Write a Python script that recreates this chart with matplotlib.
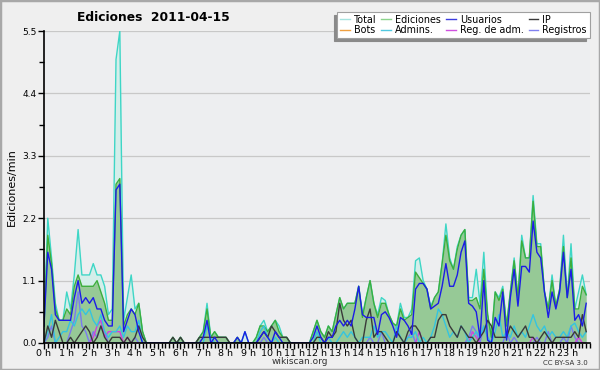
import numpy as np
import matplotlib.pyplot as plt
from matplotlib.lines import Line2D
from matplotlib.patches import Rectangle
from matplotlib.ticker import MultipleLocator, FixedLocator

# 10-minute bins over the day (edits per minute)
hour_labels = [f"{h} h" for h in range(24)]

total = [
    0.3, 2.2, 1.5, 0.7, 0.4, 0.4, 0.9, 0.6, 1.2, 2.0, 1.2, 1.2,
    1.2, 1.4, 1.2, 1.2, 1.0, 0.5, 0.6, 5.0, 5.5, 0.4, 0.8, 1.2,
    0.6, 0.7, 0.2, 0, 0, 0, 0, 0, 0, 0, 0.1, 0,
    0.1, 0, 0, 0, 0, 0.1, 0.2, 0.7, 0.1, 0.2, 0.1, 0.1,
    0.1, 0, 0, 0.1, 0, 0.2, 0, 0, 0.1, 0.3, 0.4, 0.2,
    0.3, 0.4, 0.3, 0.1, 0.1, 0, 0, 0, 0, 0, 0, 0.2,
    0.4, 0.2, 0.1, 0.3, 0.2, 0.5, 0.8, 0.6, 0.7, 0.7, 0.7, 1.0,
    0.5, 0.8, 1.1, 0.7, 0.5, 0.8, 0.75, 0.5, 0.35, 0.3, 0.7, 0.45,
    0.45, 0.6, 1.45, 1.5, 1.1, 0.95, 0.65, 0.8, 0.9, 1.4, 2.1, 1.5,
    1.3, 1.7, 1.9, 2.0, 0.8, 0.8, 1.3, 0.7, 1.6, 0.5, 0.1, 0.9,
    0.8, 1.0, 0.3, 0.9, 1.5, 0.8, 1.9, 1.5, 1.5, 2.6, 1.75, 1.75,
    0.9, 0.6, 1.2, 0.65, 0.95, 1.9, 0.8, 1.75, 0.6, 0.9, 1.2, 0.85,
]
ediciones = [
    0.3, 1.9, 1.4, 0.6, 0.4, 0.4, 0.6, 0.5, 1.0, 1.2, 1.0, 1.0,
    1.0, 1.0, 1.1, 0.9, 0.7, 0.4, 0.4, 2.8, 2.9, 0.3, 0.5, 0.6,
    0.5, 0.7, 0.2, 0, 0, 0, 0, 0, 0, 0, 0.1, 0,
    0.1, 0, 0, 0, 0, 0.1, 0.2, 0.6, 0.1, 0.2, 0.1, 0.1,
    0.1, 0, 0, 0.1, 0, 0, 0, 0, 0.1, 0.3, 0.3, 0.2,
    0.3, 0.4, 0.2, 0.1, 0.1, 0, 0, 0, 0, 0, 0, 0.2,
    0.4, 0.2, 0.1, 0.3, 0.2, 0.5, 0.8, 0.6, 0.7, 0.7, 0.7, 1.0,
    0.45, 0.8, 1.1, 0.7, 0.45, 0.7, 0.7, 0.5, 0.35, 0.3, 0.6, 0.4,
    0.45, 0.5, 1.25, 1.15, 1.05, 0.95, 0.6, 0.8, 0.9, 1.4, 1.9, 1.45,
    1.3, 1.65, 1.9, 2.0, 0.75, 0.75, 0.8, 0.6, 1.3, 0.5, 0.1, 0.9,
    0.75, 0.95, 0.3, 0.9, 1.45, 0.8, 1.8, 1.5, 1.5, 2.5, 1.7, 1.7,
    0.9, 0.6, 1.1, 0.65, 0.95, 1.7, 0.8, 1.5, 0.6, 0.6, 1.0, 0.85,
]
usuarios = [
    0.3, 1.6, 1.3, 0.5, 0.4, 0.4, 0.4, 0.4, 0.8, 1.1, 0.7, 0.8,
    0.7, 0.8, 0.6, 0.6, 0.4, 0.3, 0.3, 2.7, 2.8, 0.2, 0.4, 0.6,
    0.5, 0.2, 0, 0, 0, 0, 0, 0, 0, 0, 0, 0,
    0, 0, 0, 0, 0, 0, 0.1, 0.4, 0, 0.1, 0, 0,
    0, 0, 0, 0.1, 0, 0.2, 0, 0, 0, 0.1, 0.2, 0.1,
    0, 0.2, 0.1, 0, 0, 0, 0, 0, 0, 0, 0, 0.1,
    0.3, 0.1, 0, 0.1, 0.1, 0.3, 0.4, 0.3, 0.4, 0.3, 0.6, 1.0,
    0.5, 0.45, 0.45, 0.45, 0.15, 0.5, 0.55, 0.45, 0.3, 0.1, 0.45, 0.4,
    0.3, 0.15, 0.95, 1.05, 1.05, 0.95, 0.6, 0.65, 0.7, 1.0, 1.4, 1.0,
    1.0, 1.2, 1.6, 1.8, 0.7, 0.65, 0.55, 0.1, 1.1, 0.05, 0, 0.45,
    0.3, 0.9, 0.05, 0.8, 1.3, 0.65, 1.35, 1.35, 1.25, 2.15, 1.6, 1.5,
    0.9, 0.45, 0.9, 0.6, 0.9, 1.6, 0.8, 1.3, 0.4, 0.5, 0.3, 0.7,
]
ip = [
    0, 0.3, 0.1, 0.4, 0.2, 0, 0, 0.1, 0, 0.1, 0.2, 0.3,
    0.2, 0, 0.1, 0.3, 0.1, 0, 0.1, 0.1, 0.1, 0, 0.1, 0,
    0.1, 0.3, 0.1, 0, 0, 0, 0, 0, 0, 0, 0.1, 0,
    0.1, 0, 0, 0, 0, 0.1, 0.1, 0.1, 0.1, 0.1, 0.1, 0.1,
    0.1, 0, 0, 0, 0, 0, 0, 0, 0, 0.1, 0.2, 0.1,
    0.3, 0.2, 0.1, 0.1, 0.1, 0, 0, 0, 0, 0, 0, 0,
    0.1, 0.1, 0, 0.2, 0.1, 0.2, 0.7, 0.4, 0.3, 0.4, 0.1, 0,
    0, 0.4, 0.6, 0.1, 0.2, 0.2, 0.1, 0, 0, 0.2, 0.1, 0,
    0.2, 0.3, 0.3, 0.2, 0, 0, 0.1, 0.1, 0.4, 0.5, 0.5, 0.3,
    0.2, 0.1, 0.3, 0.2, 0.1, 0.1, 0, 0.1, 0.2, 0.4, 0.3, 0.1,
    0.1, 0.1, 0.1, 0.3, 0.2, 0.1, 0.2, 0.3, 0.1, 0.1, 0, 0.1,
    0.2, 0.1, 0, 0.1, 0.1, 0.1, 0.1, 0.1, 0.2, 0.1, 0.5, 0.2,
]
bots = [0] * 144
admins = [
    0, 0.2, 0.5, 0, 0.1, 0.2, 0.2, 0.4, 0.3, 0.5, 0.6, 0.5,
    0.6, 0.4, 0.3, 0.5, 0.2, 0.1, 0.2, 0.2, 0.3, 0.1, 0.3, 0.2,
    0.2, 0.4, 0, 0, 0, 0, 0, 0, 0, 0, 0, 0,
    0, 0, 0, 0, 0, 0, 0, 0.3, 0.1, 0, 0, 0,
    0, 0, 0, 0, 0, 0, 0, 0, 0, 0.2, 0.3, 0.1,
    0, 0.1, 0, 0, 0, 0, 0, 0, 0, 0, 0, 0,
    0.2, 0, 0, 0.1, 0, 0, 0.1, 0.2, 0.1, 0.2, 0.1, 0,
    0.1, 0.1, 0.1, 0.3, 0.1, 0.2, 0.2, 0.1, 0, 0.3, 0.1, 0,
    0.1, 0.1, 0.2, 0, 0.1, 0, 0.1, 0.3, 0.6, 0.5, 0.3, 0.1,
    0.2, 0.1, 0.3, 0.2, 0, 0.1, 0.2, 0.1, 0.3, 0.1, 0, 0.2,
    0.5, 0.1, 0.2, 0.1, 0.3, 0.1, 0.2, 0.1, 0.3, 0.5, 0.3, 0.2,
    0.3, 0.1, 0.2, 0.1, 0.1, 0.2, 0.1, 0.3, 0.35, 0.2, 0.1, 0.2,
]
reg_adm = [
    0, 0, 0, 0, 0, 0, 0, 0, 0, 0, 0, 0,
    0, 0.1, 0.3, 0.4, 0.1, 0.2, 0.2, 0.2, 0.2, 0, 0.1, 0,
    0, 0, 0, 0, 0, 0, 0, 0, 0, 0, 0, 0,
    0, 0, 0, 0, 0, 0, 0, 0, 0, 0, 0, 0,
    0, 0, 0, 0, 0, 0, 0, 0, 0, 0, 0, 0,
    0, 0, 0, 0, 0, 0, 0, 0, 0, 0, 0, 0,
    0, 0, 0, 0, 0, 0, 0, 0, 0, 0, 0, 0,
    0, 0, 0, 0, 0, 0, 0, 0, 0, 0, 0, 0,
    0, 0, 0, 0.2, 0, 0, 0, 0, 0, 0, 0, 0,
    0, 0, 0, 0, 0, 0.2, 0.1, 0, 0, 0, 0, 0,
    0, 0, 0, 0, 0, 0, 0, 0, 0, 0.1, 0, 0,
    0, 0, 0, 0, 0, 0, 0, 0, 0, 0.1, 0, 0,
]
registros = [
    0, 0.1, 0.3, 0, 0, 0, 0, 0.2, 0.4, 0.9, 0.3, 0.2,
    0, 0.2, 0.1, 0.3, 0.2, 0, 0, 0, 0, 0, 0, 0,
    0.1, 0, 0, 0, 0, 0, 0, 0, 0, 0, 0, 0,
    0, 0, 0, 0, 0, 0, 0, 0, 0, 0, 0, 0,
    0, 0, 0, 0, 0, 0, 0, 0, 0, 0, 0.1, 0,
    0, 0, 0, 0, 0, 0, 0, 0, 0, 0, 0, 0,
    0, 0, 0, 0, 0, 0, 0, 0, 0, 0, 0, 0,
    0, 0, 0.1, 0, 0, 0.2, 0, 0, 0, 0, 0, 0,
    0.1, 0.2, 0, 0, 0, 0, 0, 0, 0, 0, 0, 0,
    0, 0, 0, 0, 0.1, 0.3, 0.2, 0, 0.3, 0.1, 0, 0,
    0, 0, 0.2, 0, 0.1, 0, 0, 0, 0, 0, 0.1, 0,
    0, 0.2, 0, 0, 0, 0.1, 0, 0.3, 0.1, 0, 0, 0,
]

x = np.arange(len(total))

fig = plt.figure(figsize=(6, 3.7), dpi=100, facecolor='#efefef')
fig.patches.append(Rectangle((0, 0), 1, 1, transform=fig.transFigure,
                             fill=False, edgecolor='#a8a8a8', lw=2.5))

ax = fig.add_axes([0.0733, 0.073, 0.9100, 0.843])
ax.set_facecolor('#edeef0')

# filled areas
ax.fill_between(x, total, color='#d4eeea', lw=0, zorder=1)
ax.fill_between(x, ediciones, color='#96c996', lw=0, zorder=2)

# lines
series = [
    (total, '#3ed6c6'),
    (ediciones, '#3cae3c'),
    (registros, '#7a7af0'),
    (reg_adm, '#d040e0'),
    (admins, '#34c4e0'),
    (ip, '#3a3a3a'),
    (usuarios, '#1c1ce6'),
]
for vals, col in series:
    ax.plot(x, vals, color=col, lw=1.0, zorder=3)

ax.set_xlim(0, 144)
ax.set_ylim(0, 5.5)

ax.xaxis.set_major_locator(FixedLocator(np.arange(0, 144, 6)))
ax.set_xticklabels(hour_labels, fontsize=6.8)
ax.xaxis.set_minor_locator(MultipleLocator(1))
ax.yaxis.set_major_locator(FixedLocator([0, 1.1, 2.2, 3.3, 4.4, 5.5]))
ax.set_yticklabels(['0.0', '1.1', '2.2', '3.3', '4.4', '5.5'], fontsize=6.5)
ax.yaxis.set_minor_locator(FixedLocator([0.55, 1.65, 2.75, 3.85, 4.95]))
ax.tick_params(axis='both', which='major', direction='out', length=4, width=1)
ax.tick_params(axis='x', which='major', pad=0.5)
ax.tick_params(axis='y', which='major', pad=1.5)
ax.tick_params(axis='both', which='minor', direction='out', length=3.5, width=1)

ax.grid(axis='y', which='major', color='#c8c8c8', lw=0.9)
ax.set_axisbelow(True)
for s in ['top', 'right']:
    ax.spines[s].set_visible(False)
for s in ['left', 'bottom']:
    ax.spines[s].set_linewidth(1.2)
    ax.spines[s].set_zorder(5)

ax.set_ylabel('Ediciones/min', fontsize=8, labelpad=4)

fig.text(0.255, 0.953, 'Ediciones  2011-04-15', fontsize=8.8, fontweight='bold',
         ha='center', va='center')
fig.text(0.5, 0.022, 'wikiscan.org', fontsize=6.5, color='#333333',
         ha='center', va='center')
fig.text(0.98, 0.018, 'CC BY-SA 3.0', fontsize=5, color='#333333',
         ha='right', va='center')

# legend
leg_items = [('Total', '#a6e4e0'), ('Bots', '#f0a040'),
             ('Ediciones', '#8cd48c'), ('Admins.', '#50c8e0'),
             ('Usuarios', '#3c3ce0'), ('Reg. de adm.', '#d050e0'),
             ('IP', '#3a3a3a'), ('Registros', '#8080f0')]
handles = [Line2D([], [], color=c, lw=1.0) for _, c in leg_items]
labels = [n for n, _ in leg_items]
leg = fig.legend(handles, labels, ncol=4, loc='upper right',
                 bbox_to_anchor=(0.983, 0.968), fontsize=6.9,
                 frameon=True, fancybox=False,
                 shadow={'ox': -2.5, 'oy': -2, 'color': '#8a8a8a', 'alpha': 1},
                 handlelength=1.0, handletextpad=0.45, columnspacing=0.5,
                 labelspacing=0.05, borderpad=0.3, borderaxespad=0)
leg.get_frame().set_edgecolor('#a0a0a0')
leg.get_frame().set_linewidth(0.8)
leg.get_frame().set_facecolor('white')

fig.savefig('out.png', dpi=100, facecolor=fig.get_facecolor())
